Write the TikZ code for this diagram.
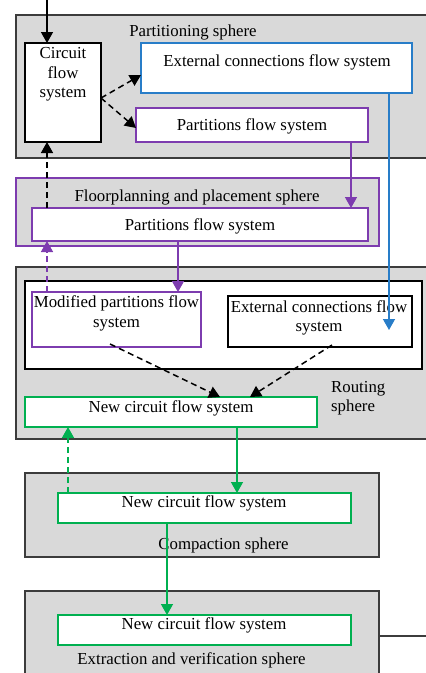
\documentclass[tikz,border=0pt]{standalone}
\usepackage{fontspec}
\setmainfont{Liberation Serif}
\usetikzlibrary{arrows.meta}
\definecolor{sgray}{RGB}{217,217,217}
\definecolor{sborder}{RGB}{60,60,60}
\definecolor{cblue}{RGB}{40,125,200}
\definecolor{cpurple}{RGB}{125,60,175}
\definecolor{cgreen}{RGB}{0,176,80}
\begin{document}
\begin{tikzpicture}[x=1pt,y=-1pt,
  font=\fontsize{16.8}{19.5}\selectfont,
  sphere/.style={draw=sborder, line width=1.6pt, fill=sgray, inner sep=0pt, outer sep=0pt, anchor=north west},
  box/.style={draw, line width=1.5pt, fill=white, inner sep=0pt, outer sep=0pt, anchor=north west},
  lbl/.style={inner sep=0pt, align=center},
  arr/.style={-{Triangle[width=12pt,length=11pt]}, line width=1.5pt},
  dsh/.style={arr, dash pattern=on 6pt off 4pt}]
\useasboundingbox (0,0) rectangle (426,673);

% spheres
\node[sphere, minimum width=414pt, minimum height=143pt] (S1) at (16,15) {};
\node[sphere, draw=cpurple, minimum width=363pt, minimum height=68pt] (S2) at (16,178) {};
\node[sphere, minimum width=414pt, minimum height=172pt] (S3) at (16,267) {};
\node[box, minimum width=397pt, minimum height=88pt] (inner) at (25,281) {};
\node[sphere, minimum width=354pt, minimum height=84pt] (S4) at (25,473) {};
\node[sphere, minimum width=354pt, minimum height=92pt] (S5) at (25,591) {};

% boxes
\node[box, line width=1.7pt, minimum width=76pt, minimum height=99pt] (circ) at (25,43) {};
\node[box, draw=cblue, minimum width=271pt, minimum height=50pt] (ext1) at (141,43) {};
\node[box, draw=cpurple, minimum width=232pt, minimum height=34pt] (p1) at (136,108) {};
\node[box, draw=cpurple, minimum width=336pt, minimum height=33pt] (p2) at (32,208) {};
\node[box, draw=cpurple, minimum width=169pt, minimum height=55pt] (mod) at (32,292) {};
\node[box, minimum width=184pt, minimum height=51pt] (ext2) at (228,296) {};
\node[box, draw=cgreen, minimum width=292pt, minimum height=30pt] (rnew) at (25,397) {};
\node[box, draw=cgreen, minimum width=293pt, minimum height=30pt] (cnew) at (58,493) {};
\node[box, draw=cgreen, minimum width=293pt, minimum height=30pt] (enew) at (58,615) {};

% texts
\node[lbl] (tS1) at (193,32) {Partitioning sphere};
\node[lbl] (tcirc) at (63,74.5) {Circuit\\flow\\system};
\node[lbl] (text1) at (277,62) {External connections flow system};
\node[lbl] (tp1) at (252,126) {Partitions flow system};
\node[lbl] (tS2) at (197,197) {Floorplanning and placement sphere};
\node[lbl] (tp2) at (200,226) {Partitions flow system};
\node[lbl] (tmod) at (116.5,313.5) {Modified partitions flow\\system};
\node[lbl] (text2) at (319,318) {External connections flow\\system};
\node[lbl, align=left, anchor=west] (tS3) at (331,398) {Routing\\sphere};
\node[lbl] (trnew) at (171,408) {New circuit flow system};
\node[lbl] (tcnew) at (204,503) {New circuit flow system};
\node[lbl] (tS4) at (223.5,545) {Compaction sphere};
\node[lbl] (tenew) at (204,625) {New circuit flow system};
\node[lbl] (tS5) at (191.5,660) {Extraction and verification sphere};

% helper coordinates
\coordinate (in) at (47,0);
\coordinate (xb) at (389,0);
\coordinate (bend) at (389,330);
\coordinate (xp) at (351,0);
\coordinate (xq) at (178,0);
\coordinate (xg) at (68,0);
\coordinate (xh) at (237,0);
\coordinate (xi) at (167,0);
\coordinate (m1) at (110,344);
\coordinate (m2) at (220,395);
\coordinate (e1) at (332,345);
\coordinate (e2) at (250,395);
\coordinate (out) at (428,636);
\coordinate (ya) at (0,636);

% connectors
\draw[arr] (in) -- (in |- circ.north);
\draw[dsh] ([yshift=-5.5pt]circ.east) -- ([yshift=-7pt]ext1.west);
\draw[dsh] ([yshift=-5.5pt]circ.east) -- ([yshift=-3pt]p1.west);
\draw[arr, cblue] (xb |- ext1.south) -- (bend);
\draw[arr, cpurple] (xp |- p1.south) -- (xp |- p2.north);
\draw[dsh] (in |- p2.north) -- (in |- circ.south);
\draw[dsh, cpurple] (in |- mod.north) -- (in |- p2.south);
\draw[arr, cpurple] (xq |- p2.south) -- (xq |- mod.north);
\draw[dsh] (m1) -- (m2 |- rnew.north);
\draw[dsh] (e1) -- (e2 |- rnew.north);
\draw[dsh, cgreen] (xg |- cnew.north) -- (xg |- rnew.south);
\draw[arr, cgreen] (xh |- rnew.south) -- (xh |- cnew.north);
\draw[arr, cgreen] (xi |- cnew.south) -- (xi |- enew.north);
\draw[line width=1.6pt, sborder] (S5.east |- ya) -- (out);
\end{tikzpicture}
\end{document}
